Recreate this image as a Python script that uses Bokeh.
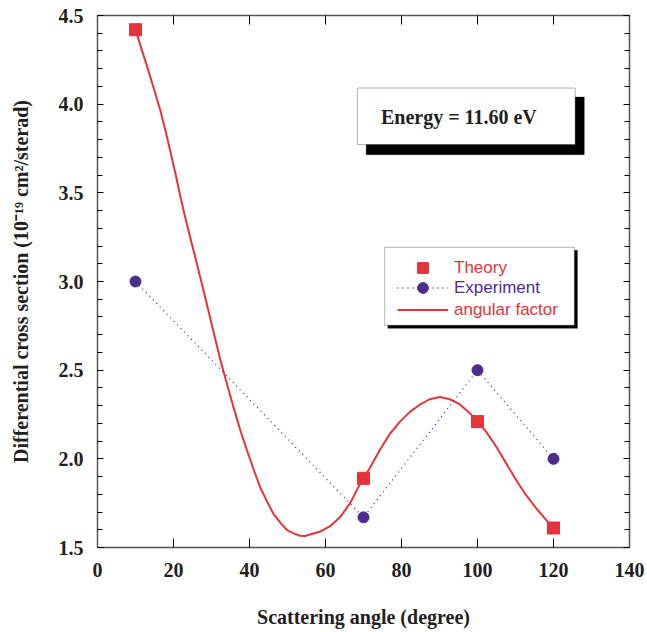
from bokeh.plotting import figure
from bokeh.models import (Range1d, LinearAxis, SingleIntervalTicker, NumeralTickFormatter,
                          Legend, LegendItem, BoxAnnotation, Label, CustomLabelingPolicy)
from bokeh.embed import file_html
from bokeh.resources import INLINE

# ---- data ----
theory_angle = [10, 70, 100, 120]
theory_xs = [4.42, 1.89, 2.21, 1.61]

exp_angle = [10, 70, 100, 120]
exp_xs = [3.00, 1.67, 2.50, 2.00]

curve_angle = [10.0, 11.3, 13.1, 14.8, 16.6, 17.9, 19.2, 20.5, 21.8, 23.1, 24.5, 25.8,
               27.2, 28.8, 30.6, 32.3, 34.1, 35.8, 37.6, 39.3, 41.1, 42.8, 44.6, 46.3,
               48.1, 49.8, 51.6, 53.3, 54.6, 58.6, 61.2, 63.8, 66.5, 69.1, 70.0, 71.7,
               74.3, 76.9, 79.6, 82.2, 84.8, 87.4, 90.1, 92.7, 95.3, 97.9, 100.0, 102.3,
               105.0, 107.6, 110.2, 112.8, 115.5, 118.1, 120.0]
curve_xs = [4.42, 4.33, 4.21, 4.09, 3.96, 3.85, 3.73, 3.61, 3.48, 3.36, 3.24, 3.13,
            3.01, 2.87, 2.71, 2.56, 2.42, 2.29, 2.16, 2.05, 1.94, 1.84, 1.76, 1.69,
            1.64, 1.60, 1.58, 1.566, 1.565, 1.59, 1.62, 1.67, 1.75, 1.86, 1.89, 1.95,
            2.05, 2.14, 2.21, 2.265, 2.305, 2.336, 2.349, 2.336, 2.308, 2.259, 2.21, 2.152,
            2.067, 1.973, 1.879, 1.795, 1.72, 1.654, 1.61]

RED = "#E5333B"
PURPLE = "#4B2D8F"
INK = "#231F20"
SERIF = "Liberation Serif"
SANS = "Liberation Sans"

p = figure(width=647, height=632, x_range=Range1d(0, 140), y_range=Range1d(1.5, 4.5),
           output_backend="svg", toolbar_location=None,
           min_border_left=97, min_border_right=17, min_border_top=15, min_border_bottom=85,
           x_axis_label="Scattering angle (degree)",
           y_axis_label="Differential cross section (10\u207b\u00b9\u2079 cm\u00b2/sterad)")
p.grid.visible = False
p.outline_line_color = None
p.background_fill_color = "white"
p.border_fill_color = "white"

xticker = SingleIntervalTicker(interval=20, num_minor_ticks=0)
yticker = SingleIntervalTicker(interval=0.5, num_minor_ticks=5)


def style_axis(ax, major_len, minor_len, labels=True):
    ax.axis_line_color = "#555555"
    ax.axis_line_width = 1.5
    ax.major_tick_in = major_len
    ax.major_tick_out = 0
    ax.minor_tick_in = minor_len
    ax.minor_tick_out = 0
    ax.major_tick_line_color = "black"
    ax.minor_tick_line_color = "black"
    if labels:
        ax.major_label_text_font = SERIF
        ax.major_label_text_font_style = "bold"
        ax.major_label_text_font_size = "20px"
        ax.major_label_text_color = INK
        ax.axis_label_text_font = SERIF
        ax.axis_label_text_font_style = "bold"
        ax.axis_label_text_font_size = "20px"
        ax.axis_label_text_color = INK
    else:
        ax.major_label_policy = CustomLabelingPolicy(code="return new Set()")
        ax.major_label_standoff = 0


xa = p.xaxis[0]
xa.ticker = xticker
style_axis(xa, 9, 0)
xa.major_label_standoff = 15
xa.axis_label_standoff = 26

ya = p.yaxis[0]
ya.ticker = yticker
ya.formatter = NumeralTickFormatter(format="0.0")
style_axis(ya, 6, 5)
ya.major_label_standoff = 14
ya.axis_label_standoff = 24

top = LinearAxis(ticker=xticker)
style_axis(top, 9, 0, labels=False)
p.add_layout(top, "above")
right = LinearAxis(ticker=yticker)
style_axis(right, 6, 5, labels=False)
p.add_layout(right, "right")

# ---- glyphs ----
r_curve = p.line(curve_angle, curve_xs, line_color=RED, line_width=2)
r_exp_line = p.line(exp_angle, exp_xs, line_color=PURPLE, line_width=1.3, line_dash="1 4")
r_theory = p.scatter(theory_angle, theory_xs, marker="square", size=12,
                     fill_color=RED, line_color=RED)
r_exp = p.scatter(exp_angle, exp_xs, marker="circle", size=11,
                  fill_color=PURPLE, line_color=PURPLE)

# ---- energy annotation box with shadow ----
p.add_layout(BoxAnnotation(left=70.7, right=128.1, top=4.040, bottom=3.715,
                           fill_color="black", fill_alpha=1, line_color="black"))
p.add_layout(BoxAnnotation(left=68.4, right=125.7, top=4.091, bottom=3.772,
                           fill_color="white", fill_alpha=1, line_color="black", line_width=1))
p.add_layout(Label(x=95.1, y=3.93, text="Energy = 11.60 eV", text_align="center",
                   text_baseline="middle", text_font=SERIF, text_font_style="bold",
                   text_font_size="20px", text_color=INK))

# ---- legend box with shadow ----
p.add_layout(BoxAnnotation(left=76.4, right=126.3, top=3.176, bottom=2.736,
                           fill_color="black", fill_alpha=1, line_color="black"))
p.add_layout(BoxAnnotation(left=75.6, right=125.5, top=3.193, bottom=2.753,
                           fill_color="white", fill_alpha=1, line_color="black", line_width=1))

legend_specs = [
    ("Theory", [r_theory], RED, 268),
    ("Experiment", [r_exp_line, r_exp], PURPLE, 288),
    ("angular factor", [r_curve], RED, 310),
]
for label, rs, col, yc in legend_specs:
    leg = Legend(items=[LegendItem(label=label, renderers=rs)],
                 location=(300, 547.3 - yc - 13.5),
                 border_line_color=None, background_fill_alpha=0,
                 padding=0, margin=0, spacing=0,
                 glyph_width=51, glyph_height=27, label_height=27,
                 label_standoff=6, label_text_font=SANS, label_text_font_size="17px",
                 label_text_color=col, label_text_baseline="middle")
    p.add_layout(leg)

open("out.html", "w").write(file_html(p, INLINE))
